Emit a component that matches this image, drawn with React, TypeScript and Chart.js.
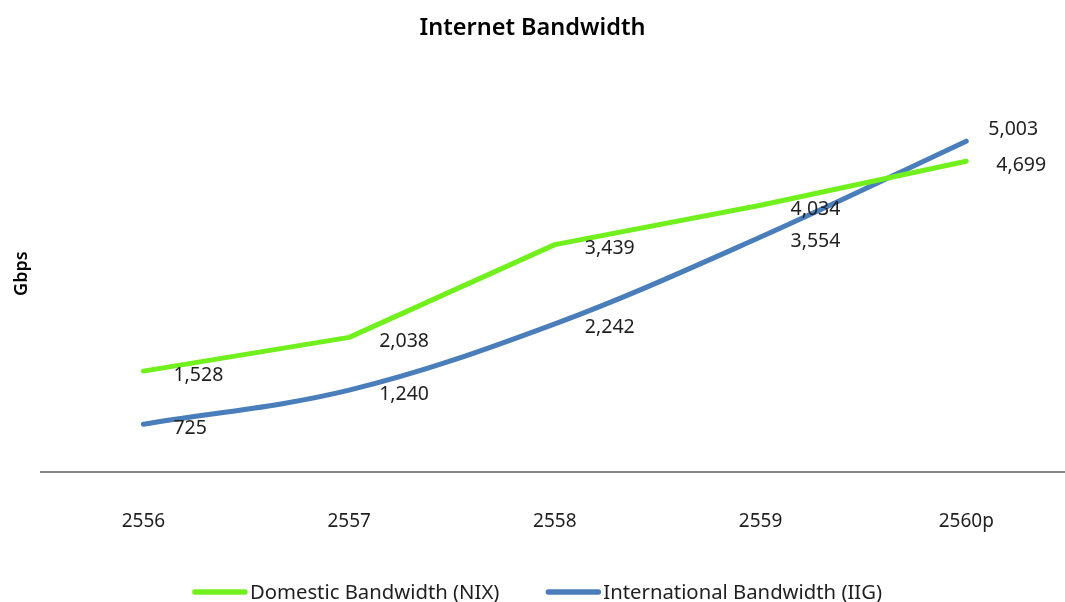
import React, { useEffect, useRef } from "react";
import { Chart, registerables } from "chart.js";

Chart.register(...registerables);

const years = ["2556", "2557", "2558", "2559", "2560p"];
const domestic = [1528, 2038, 3439, 4034, 4699];
const international = [725, 1240, 2242, 3554, 5003];
const seriesNames = ["Domestic Bandwidth (NIX)", "International Bandwidth (IIG)"];
const seriesColors = ["#72F01E", "#4A7EBB"];

const FONT = "'Noto Sans', 'DejaVu Sans', sans-serif";
const TEXT = "#1f1f1f";

const fmt = (v: number) => v.toLocaleString("en-US");

const labelPlugin = {
  id: "pointLabels",
  afterDatasetsDraw(chart: any) {
    const ctx = chart.ctx;
    ctx.save();
    ctx.font = `19.5px ${FONT}`;
    ctx.fillStyle = TEXT;
    ctx.textAlign = "left";
    ctx.textBaseline = "middle";
    chart.data.datasets.forEach((ds: any, di: number) => {
      const meta = chart.getDatasetMeta(di);
      meta.data.forEach((pt: any, i: number) => {
        const raw = ds.data[i];
        const v = typeof raw === "object" ? raw.y : raw;
        let dx = 30;
        let dy = 4;
        if (di === 1 && i === ds.data.length - 1) {
          dx = 22;
          dy = -12;
        }
        ctx.fillText(fmt(v), pt.x + dx, pt.y + dy);
      });
    });
    ctx.restore();
  },
};

const legendPlugin = {
  id: "lineLegend",
  afterDraw(chart: any) {
    const ctx = chart.ctx;
    ctx.save();
    ctx.font = `20.3px ${FONT}`;
    const sw = 56;
    const gap = 2;
    const between = 46;
    const widths = seriesNames.map((n) => ctx.measureText(n).width);
    const total = widths.reduce((a, w) => a + sw + gap + w, 0) + between * (seriesNames.length - 1);
    let x = 537 - total / 2;
    const y = 592;
    seriesNames.forEach((n, i) => {
      ctx.strokeStyle = seriesColors[i];
      ctx.lineWidth = 5.5;
      ctx.lineCap = "round";
      ctx.beginPath();
      ctx.moveTo(x + 3, y);
      ctx.lineTo(x + sw - 3, y);
      ctx.stroke();
      ctx.fillStyle = TEXT;
      ctx.textAlign = "left";
      ctx.textBaseline = "middle";
      ctx.fillText(n, x + sw + gap, y + 1);
      x += sw + gap + widths[i] + between;
    });
    ctx.restore();
  },
};

export default function App() {
  const ref = useRef<HTMLCanvasElement | null>(null);
  useEffect(() => {
    if (!ref.current) return;
    const chart = new Chart(ref.current, {
      type: "line",
      data: {
        datasets: [
          {
            label: seriesNames[0],
            data: domestic.map((v, i) => ({ x: i, y: v })),
            borderColor: seriesColors[0],
            backgroundColor: seriesColors[0],
            borderWidth: 5,
            borderCapStyle: "round",
            borderJoinStyle: "round",
            pointRadius: 0,
            tension: 0,
            fill: false,
          },
          {
            label: seriesNames[1],
            data: international.map((v, i) => ({ x: i, y: v })),
            borderColor: seriesColors[1],
            backgroundColor: seriesColors[1],
            borderWidth: 5,
            borderCapStyle: "round",
            borderJoinStyle: "round",
            pointRadius: 0,
            tension: 0.35,
            fill: false,
          },
        ],
      },
      options: {
        animation: false,
        responsive: false,
        maintainAspectRatio: false,
        layout: { padding: { left: 0, right: 0, top: 0, bottom: 31 } },
        plugins: {
          legend: { display: false },
          tooltip: { enabled: false },
          title: {
            display: true,
            text: "Internet Bandwidth",
            color: "#000",
            font: { family: FONT, size: 23.5, weight: "600" },
            padding: { top: 14, bottom: 33 },
          },
        },
        scales: {
          x: {
            type: "linear",
            min: -0.5,
            max: 4.48,
            grid: { display: false, drawTicks: false },
            border: { display: true, color: "#868686", width: 2 },
            afterBuildTicks: (scale: any) => {
              scale.ticks = years.map((_, i) => ({ value: i }));
            },
            ticks: {
              padding: 38,
              color: TEXT,
              font: { family: FONT, size: 19 },
              callback: (v: any) => years[Math.round(Number(v))] ?? "",
            },
          },
          y: {
            min: 0,
            max: 6000,
            grid: { display: false, drawTicks: false },
            border: { display: false },
            ticks: { display: false },
            title: {
              display: true,
              text: "Gbps",
              color: "#000",
              font: { family: FONT, size: 18, weight: "600" },
              padding: { top: 11, bottom: 8 },
            },
          },
        },
      },
      plugins: [labelPlugin, legendPlugin],
    } as any);
    return () => chart.destroy();
  }, []);
  return (
    <div style={{ position: "absolute", left: 0, top: 0, width: 1065, height: 602 }}>
      <canvas ref={ref} width={1065} height={602} style={{ width: 1065, height: 602 }} />
    </div>
  );
}
